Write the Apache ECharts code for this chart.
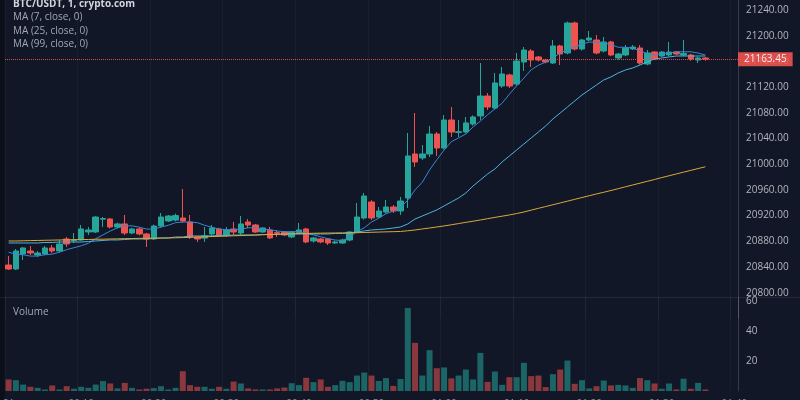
<!DOCTYPE html>
<html>
<head>
<meta charset="utf-8">
<title>BTC/USDT, 1, crypto.com</title>
<script src="https://cdn.jsdelivr.net/npm/echarts@6/dist/echarts.min.js"></script>
<style>
  html, body { margin: 0; padding: 0; background: #111726; }
  #chart { width: 800px; height: 400px; }
</style>
</head>
<body>
<div id="chart"></div>
<script>
// candles as [open, close, low, high]
const ohlc = [
  [20843.1, 20836.9, 20835.3, 20857.2], [20836.9, 20864.9, 20835.3, 20868.0], [20860.3, 20869.6, 20850.9, 20871.2],
  [20864.9, 20861.8, 20858.7, 20872.7], [20858.7, 20861.8, 20855.6, 20864.9], [20860.3, 20869.6, 20858.7, 20872.7],
  [20869.6, 20864.9, 20861.8, 20874.3], [20864.9, 20875.8, 20863.0, 20882.0], [20883.6, 20875.8, 20871.2, 20886.7],
  [20881.0, 20882.5, 20877.4, 20892.9], [20882.0, 20899.2, 20881.0, 20905.4], [20894.5, 20897.6, 20889.8, 20902.3],
  [20894.5, 20917.8, 20893.0, 20919.0], [20914.5, 20915.5, 20902.3, 20917.8], [20914.7, 20902.3, 20900.0, 20916.0],
  [20902.3, 20907.0, 20900.0, 20909.0], [20907.0, 20892.9, 20889.8, 20921.0], [20892.9, 20899.2, 20891.0, 20901.0],
  [20899.2, 20891.4, 20889.0, 20901.0], [20891.4, 20883.6, 20871.2, 20893.0], [20883.6, 20903.8, 20882.0, 20906.0],
  [20903.8, 20917.8, 20902.0, 20924.0], [20911.6, 20919.4, 20910.0, 20921.0], [20913.0, 20920.0, 20911.0, 20923.0],
  [20916.3, 20911.6, 20909.0, 20961.4], [20910.1, 20886.7, 20883.6, 20921.0], [20886.7, 20883.6, 20879.0, 20888.0],
  [20885.0, 20888.3, 20879.0, 20902.3], [20891.4, 20900.7, 20886.7, 20905.4], [20899.2, 20889.8, 20888.0, 20901.0],
  [20889.8, 20897.6, 20886.7, 20902.3], [20899.2, 20894.5, 20889.8, 20910.1], [20892.9, 20907.0, 20889.8, 20919.4],
  [20910.1, 20905.4, 20900.7, 20914.7], [20905.4, 20894.5, 20893.0, 20907.0], [20894.5, 20900.7, 20893.0, 20902.0],
  [20897.6, 20885.2, 20883.6, 20902.3], [20893.5, 20892.5, 20886.7, 20897.6], [20894.5, 20889.8, 20888.0, 20896.0],
  [20886.7, 20894.5, 20885.0, 20896.0], [20892.9, 20897.6, 20891.0, 20908.6], [20899.2, 20879.0, 20877.0, 20901.0],
  [20880.5, 20885.2, 20878.0, 20887.0], [20883.6, 20879.0, 20877.0, 20885.0], [20883.6, 20877.4, 20874.3, 20885.0],
  [20877.4, 20879.0, 20876.0, 20881.0], [20877.4, 20882.0, 20876.0, 20884.0], [20882.0, 20894.5, 20880.0, 20896.0],
  [20894.5, 20917.8, 20893.0, 20939.6], [20916.3, 20950.5, 20914.0, 20955.2], [20941.2, 20916.3, 20913.2, 20944.0],
  [20917.8, 20927.2, 20916.3, 20933.4], [20925.6, 20933.4, 20924.0, 20944.3], [20933.4, 20927.2, 20924.0, 20936.5],
  [20927.2, 20942.7, 20921.0, 20949.0], [20947.4, 21012.8, 20931.8, 21048.6], [21015.9, 21003.4, 20995.7, 21079.7],
  [21009.7, 21015.9, 21006.6, 21029.9], [21015.9, 21047.0, 21011.2, 21059.5], [21047.0, 21025.2, 21012.8, 21050.1],
  [21025.2, 21068.8, 21023.0, 21076.6], [21068.8, 21050.1, 21042.4, 21089.0], [21049.5, 21050.5, 21042.4, 21068.8],
  [21050.1, 21064.2, 21048.0, 21073.5], [21062.6, 21073.5, 21060.0, 21076.0], [21075.1, 21106.1, 21068.8, 21157.5],
  [21106.1, 21089.0, 21084.4, 21110.8], [21087.5, 21126.4, 21085.0, 21142.0], [21121.7, 21140.4, 21119.0, 21151.3],
  [21138.9, 21121.7, 21118.6, 21141.0], [21124.8, 21160.6, 21122.0, 21173.1], [21159.1, 21177.7, 21145.0, 21182.4],
  [21176.2, 21162.2, 21151.3, 21179.0], [21166.9, 21162.2, 21160.0, 21168.5], [21162.2, 21159.1, 21157.0, 21164.0],
  [21157.5, 21184.0, 21156.0, 21193.3], [21184.0, 21171.5, 21154.4, 21186.0], [21173.1, 21219.8, 21171.0, 21222.0],
  [21219.8, 21179.3, 21177.0, 21222.0], [21179.3, 21193.3, 21177.0, 21195.0], [21193.3, 21196.4, 21191.0, 21207.3],
  [21193.3, 21173.1, 21171.0, 21201.1], [21176.2, 21190.2, 21174.0, 21198.0], [21190.2, 21170.0, 21168.0, 21192.0],
  [21165.3, 21171.5, 21163.0, 21173.0], [21170.0, 21180.9, 21168.0, 21185.5], [21179.3, 21182.4, 21177.7, 21185.5],
  [21180.9, 21157.5, 21155.0, 21185.5], [21155.9, 21173.1, 21154.0, 21177.7], [21174.6, 21163.7, 21162.0, 21176.0],
  [21168.4, 21174.6, 21167.0, 21176.0], [21170.0, 21174.6, 21168.0, 21190.2], [21174.6, 21171.5, 21170.0, 21176.0],
  [21170.0, 21172.5, 21168.0, 21193.3], [21170.0, 21163.7, 21161.0, 21172.0], [21162.2, 21165.3, 21157.5, 21167.0],
  [21165.3, 21163.45, 21161.0, 21167.0]
];

const volumes = [
  7.7, 7.2, 4.3, 2.8, 2.1, 1.0, 3.7, 1.0, 3.2, 1.5, 2.8, 2.1, 4.3, 6.6, 5.0, 1.7, 5.4, 2.1, 1.0, 1.5,
  1.9, 3.2, 1.0, 2.1, 13.2, 3.9, 2.8, 2.8, 1.5, 2.8, 1.5, 6.3, 5.0, 1.7, 1.0, 1.0, 1.0, 1.7, 2.3, 5.2,
  3.9, 8.8, 5.9, 7.7, 2.8, 3.9, 6.8, 5.9, 10.3, 12.3, 10.3, 6.7, 8.6, 3.4, 8.0, 55.4, 32.1, 10.3, 27.2, 15.2,
  15.7, 8.4, 10.3, 14.3, 7.7, 25.4, 6.1, 13.0, 4.1, 9.2, 9.2, 18.8, 9.9, 10.3, 2.6, 11.2, 14.3, 20.3, 4.8, 7.2,
  1.7, 3.2, 7.0, 3.7, 4.1, 3.7, 2.1, 8.6, 7.2, 5.0, 1.5, 5.0, 1.0, 8.2, 1.5, 5.4, 1.0
];

const ma7 = [
  20863, 20860, 20859, 20857, 20857, 20859, 20860, 20863, 20867, 20870, 20873, 20877, 20884, 20890, 20896, 20901,
  20904, 20904, 20902, 20899, 20899, 20902, 20905, 20909, 20910, 20910, 20909, 20905, 20902, 20899, 20898, 20898,
  20899, 20901, 20901, 20899, 20898, 20896, 20895, 20895, 20895, 20893, 20890, 20887, 20884, 20882, 20881, 20887,
  20895, 20901, 20910, 20916, 20923, 20927, 20933, 20944, 20960, 20972, 20991, 21007, 21022, 21035, 21041, 21047,
  21058, 21067, 21077, 21086, 21095, 21109, 21122, 21134, 21147, 21154, 21159, 21165, 21173, 21178, 21182, 21187,
  21190, 21190, 21189, 21186, 21182, 21182, 21181, 21176, 21172, 21170, 21172, 21173, 21175, 21175, 21175, 21173,
  21170
];

const ma25 = [
  20877.4, 20877.4, 20877.4, 20877.4, 20877.4, 20878.2, 20878.2, 20878.9, 20878.9, 20878.9, 20878.9, 20879.7,
  20880.5, 20881.3, 20882.1, 20882.1, 20882.8, 20883.6, 20883.6, 20883.6, 20884.4, 20885.2, 20885.2, 20886.7,
  20886.7, 20888.3, 20888.3, 20888.3, 20888.3, 20889.1, 20889.1, 20889.8, 20889.8, 20889.8, 20889.8, 20890.6,
  20890.6, 20890.6, 20891.4, 20891.4, 20891.4, 20891.4, 20891.4, 20891.4, 20891.4, 20892.2, 20892.2, 20893.0,
  20894.5, 20896.1, 20897.6, 20898.4, 20899.2, 20900.7, 20902.3, 20907.0, 20914.7, 20919.4, 20924.1, 20928.8,
  20935.0, 20941.2, 20947.4, 20955.2, 20966.1, 20975.4, 20984.8, 20992.6, 21003.5, 21012.8, 21022.1, 21031.5,
  21040.8, 21050.1, 21059.5, 21070.4, 21079.7, 21089.1, 21098.4, 21107.7, 21115.5, 21123.3, 21131.1, 21135.8,
  21142.0, 21146.7, 21149.8, 21154.4, 21159.1, 21163.8, 21165.3, 21166.9, 21168.4, 21168.4, 21168.4, 21168.4,
  21168.4
];

const ma99 = [
  20880.5, 20880.5, 20880.8, 20881.1, 20881.3, 20881.6, 20881.8, 20882.1, 20882.2, 20882.4, 20882.7, 20882.8,
  20883.2, 20883.3, 20883.6, 20883.8, 20884.1, 20884.2, 20884.6, 20884.7, 20884.9, 20885.0, 20885.2, 20885.5,
  20885.8, 20886.1, 20886.6, 20886.9, 20887.4, 20887.7, 20888.1, 20888.6, 20888.9, 20889.4, 20889.7, 20890.2,
  20890.5, 20891.0, 20891.3, 20891.6, 20891.9, 20892.2, 20892.5, 20892.7, 20892.8, 20893.0, 20893.1, 20893.3,
  20893.4, 20893.7, 20894.0, 20894.4, 20894.7, 20895.0, 20895.3, 20896.4, 20897.6, 20899.2, 20900.7, 20902.3,
  20903.9, 20905.7, 20907.6, 20909.5, 20911.3, 20913.2, 20915.2, 20917.2, 20919.1, 20921.0, 20923.2, 20925.6,
  20928.5, 20931.3, 20934.1, 20936.9, 20939.7, 20942.5, 20945.3, 20948.1, 20950.9, 20953.7, 20956.3, 20959.1,
  20961.9, 20964.9, 20967.7, 20970.5, 20973.4, 20976.2, 20979.2, 20982.0, 20984.8, 20987.6, 20990.4, 20993.2,
  20996.0
];

const lastPrice = 21163.45;
// time labels, one every 10 bars
const tickLabels = ['21', '00:10', '00:20', '00:30', '00:40', '00:50', '01:00', '01:10', '01:20', '01:30', '01:40'];
const emptySlots = 4; // free space right of the last bar

const categories = [];
for (let i = 0; i < ohlc.length + emptySlots; i++) {
  categories.push(String(Math.floor(i / 60)).padStart(2, '0') + ':' + String(i % 60).padStart(2, '0'));
}

const upColor = '#26a69a';
const downColor = '#ef5350';
const axisText = { color: '#b2b5be', fontSize: 10, fontFamily: 'Open Sans' };
const edgeLine = { show: true, lineStyle: { color: 'rgba(255,255,255,0.12)' } };
const gridLine = { show: true, interval: 9, lineStyle: { color: 'rgba(255,255,255,0.035)' } };

const chart = echarts.init(document.getElementById('chart'));

chart.setOption({
  backgroundColor: '#111726',
  animation: false,
  grid: [
    // top is negative so that 21240 / 20800 land where the reference has them
    { left: 5, right: 62, top: -15.7, height: 334.1, outerBoundsMode: 'none', containLabel: false },
    { left: 5, right: 62, top: 297.5, height: 93.5, outerBoundsMode: 'none', containLabel: false },
  ],
  xAxis: [
    {
      type: 'category', gridIndex: 0, data: categories, boundaryGap: true,
      axisLine: { show: false }, axisTick: { show: false }, axisLabel: { show: false },
      splitLine: gridLine,
    },
    {
      type: 'category', gridIndex: 1, data: categories, boundaryGap: true,
      axisLine: { show: false }, axisTick: { show: false },
      axisLabel: {
        ...axisText, color: '#8c909b', interval: 9, margin: 8,
        formatter: (v, i) => (i % 10 === 0 ? tickLabels[i / 10] : ''),
      },
      splitLine: gridLine,
    },
  ],
  yAxis: [
    {
      type: 'value', gridIndex: 0, position: 'right',
      min: 20760, max: 21280, interval: 40,
      axisLine: edgeLine, axisTick: { show: false }, splitLine: { show: false },
      axisLabel: {
        ...axisText, margin: 8,
        formatter: (v) => (v < 20800 || v > 21240 ? '' : v.toFixed(2)),
      },
    },
    {
      type: 'value', gridIndex: 1, position: 'right',
      min: 0, max: 62.33, interval: 20,
      axisLine: edgeLine, axisTick: { show: false }, splitLine: { show: false },
      axisLabel: {
        ...axisText, margin: 8,
        formatter: (v) => (v === 0 || v % 20 !== 0 ? '' : String(v)),
      },
    },
  ],
  graphic: [
    { type: 'rect', shape: { x: 0, y: 0, width: 4.5, height: 400 }, style: { fill: '#0b0f19' } },
    { type: 'line', shape: { x1: 0, y1: 297.5, x2: 800, y2: 297.5 }, style: { stroke: 'rgba(255,255,255,0.08)', lineWidth: 1 } },
    { type: 'text', x: 13, y: 4, style: { text: 'BTC/USDT, 1, crypto.com', fill: '#d1d4dc', font: 'bold 10px "Open Sans"', verticalAlign: 'middle' } },
    { type: 'text', x: 13, y: 17.5, style: { text: 'MA (7, close, 0)', fill: '#a3a7b3', font: '10px "Open Sans"', verticalAlign: 'middle' } },
    { type: 'text', x: 13, y: 31, style: { text: 'MA (25, close, 0)', fill: '#a3a7b3', font: '10px "Open Sans"', verticalAlign: 'middle' } },
    { type: 'text', x: 13, y: 44.5, style: { text: 'MA (99, close, 0)', fill: '#a3a7b3', font: '10px "Open Sans"', verticalAlign: 'middle' } },
    { type: 'text', x: 13, y: 312, style: { text: 'Volume', fill: '#a3a7b3', font: '10px "Open Sans"', verticalAlign: 'middle' } },
  ],
  series: [
    {
      name: 'BTC/USDT',
      type: 'candlestick',
      xAxisIndex: 0,
      yAxisIndex: 0,
      data: ohlc,
      barWidth: 6,
      itemStyle: {
        color: upColor, color0: downColor,
        borderColor: upColor, borderColor0: downColor, borderWidth: 1,
      },
      markLine: {
        silent: true,
        symbol: 'none',
        data: [{ yAxis: lastPrice }],
        lineStyle: { color: downColor, type: 'dotted', width: 1, opacity: 0.9 },
        label: {
          position: 'end', distance: 0,
          formatter: lastPrice.toFixed(2),
          color: '#ffffff', backgroundColor: downColor,
          fontSize: 10, fontFamily: 'Open Sans', padding: [2, 6],
        },
      },
    },
    {
      name: 'MA (7, close, 0)', type: 'line', data: ma7, xAxisIndex: 0, yAxisIndex: 0,
      showSymbol: false, lineStyle: { color: '#3a86d4', width: 1 },
    },
    {
      name: 'MA (25, close, 0)', type: 'line', data: ma25, xAxisIndex: 0, yAxisIndex: 0,
      showSymbol: false, lineStyle: { color: '#4fb3df', width: 1 },
    },
    {
      name: 'MA (99, close, 0)', type: 'line', data: ma99, xAxisIndex: 0, yAxisIndex: 0,
      showSymbol: false, lineStyle: { color: '#d9a83a', width: 1 },
    },
    {
      name: 'Volume',
      type: 'bar',
      xAxisIndex: 1,
      yAxisIndex: 1,
      barWidth: 6,
      data: volumes.map((v, i) => ({
        value: v,
        itemStyle: { color: ohlc[i][1] >= ohlc[i][0] ? 'rgba(38,166,154,0.55)' : 'rgba(239,83,80,0.55)' },
      })),
    },
  ],
});
</script>
</body>
</html>
